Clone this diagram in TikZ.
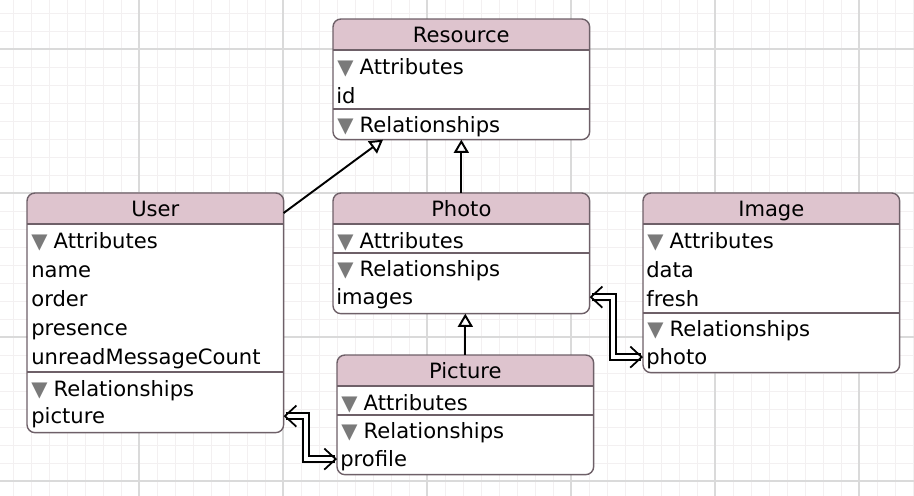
\documentclass[tikz,border=0pt]{standalone}
\usepackage{fontspec}
\setmainfont{DejaVu Sans}
\usetikzlibrary{arrows.meta,positioning,calc}
\definecolor{headfill}{HTML}{DEC4CE}
\definecolor{boxline}{HTML}{6E6068}
\definecolor{disclose}{HTML}{7A7A7A}
\definecolor{gridminor}{HTML}{F3F0F1}
\definecolor{gridmajor}{HTML}{DADADA}

\newcommand{\entityfont}{\fontsize{12}{14}\selectfont}
\newcommand{\tri}{{\color{disclose}▼}\hspace{3.5pt}}
\newcommand{\entityframe}[1]{%
  \begin{scope}
    \clip[rounded corners=0.16cm] (#1.north west) rectangle (#1.south east);
    \fill[headfill] (#1.north west) rectangle ($(#1.north east)+(0,31)$);
  \end{scope}
  \draw[boxedge] ($(#1.north west)+(0,31)$) -- ($(#1.north east)+(0,31)$);
  \draw[boxedge, rounded corners=0.16cm] (#1.north west) rectangle (#1.south east);
}
\newcommand{\divider}[2]{\draw[boxedge] (#1.west |- 0,#2) -- (#1.east |- 0,#2);}

\tikzset{
  entity/.style={fill=white, rounded corners=0.16cm, inner sep=0pt, minimum width=5.12cm, anchor=north west},
  boxedge/.style={boxline, line width=0.8pt},
  title/.style={font=\entityfont, anchor=base},
  row/.style={font=\entityfont, anchor=base west, inner sep=0pt, text height=9pt, text depth=0pt},
  inherit/.style={line width=1.1pt, -{Triangle[open, length=7.5pt, width=8.5pt, line width=1.1pt]}},
  relation/.style={double, double distance=2.4pt, line width=1pt,
    {Straight Barb[length=6.5pt, width=12pt]}-{Straight Barb[length=6.5pt, width=12pt]}},
}

\begin{document}
\begin{tikzpicture}[x=0.02cm, y=-0.02cm]
  \useasboundingbox (0,0) rectangle (914,496);
  % background grid
  \foreach \g in {13,31,...,913} \draw[gridminor, line width=0.5pt] (\g,0) -- (\g,496);
  \foreach \g in {13,31,...,495} \draw[gridminor, line width=0.5pt] (0,\g) -- (914,\g);
  \foreach \g in {139,283,...,859} \draw[gridmajor, line width=0.6pt] (\g,0) -- (\g,496);
  \foreach \g in {49,193,337,481} \draw[gridmajor, line width=0.6pt] (0,\g) -- (914,\g);

  % entity boxes
  \node[entity, minimum height=2.4cm] (resource) at (333,19) {};
  \node[entity, minimum height=4.78cm] (user) at (27,193) {};
  \node[entity, minimum height=2.4cm] (photo) at (333,193) {};
  \node[entity, minimum height=3.58cm] (image) at (643,193) {};
  \node[entity, minimum height=2.38cm] (picture) at (337,355) {};
  \entityframe{resource}
  \entityframe{user}
  \entityframe{photo}
  \entityframe{image}
  \entityframe{picture}

  % Resource
  \node[title] (resource-title) at ($(resource.north)+(0,24)$) {Resource};
  \node[row] (resource-attr) at (337,75) {\tri Attributes};
  \node[row] (resource-id) at (336,104) {id};
  \divider{resource}{109}
  \node[row] (resource-rel) at (337,133) {\tri Relationships};

  % User
  \node[title] (user-title) at ($(user.north)+(0,24)$) {User};
  \node[row] (user-attr) at (31,249) {\tri Attributes};
  \node[row] (user-name) at (31,278) {name};
  \node[row] (user-order) at (31,307) {order};
  \node[row] (user-presence) at (31,336) {presence};
  \node[row] (user-unread) at (31,365) {unreadMessageCount};
  \divider{user}{372}
  \node[row] (user-rel) at (31,397) {\tri Relationships};
  \node[row] (user-picture) at (31,424) {picture};

  % Photo
  \node[title] (photo-title) at ($(photo.north)+(0,24)$) {Photo};
  \node[row] (photo-attr) at (337,249) {\tri Attributes};
  \divider{photo}{253}
  \node[row] (photo-rel) at (337,277) {\tri Relationships};
  \node[row] (photo-images) at (336,305) {images};

  % Image
  \node[title] (image-title) at ($(image.north)+(0,24)$) {Image};
  \node[row] (image-attr) at (647,249) {\tri Attributes};
  \node[row] (image-data) at (646,278) {data};
  \node[row] (image-fresh) at (646,307) {fresh};
  \divider{image}{313}
  \node[row] (image-rel) at (647,337) {\tri Relationships};
  \node[row] (image-photo) at (646,365) {photo};

  % Picture
  \node[title] (picture-title) at ($(picture.north)+(0,24)$) {Picture};
  \node[row] (picture-attr) at (341,411) {\tri Attributes};
  \divider{picture}{415}
  \node[row] (picture-rel) at (341,439) {\tri Relationships};
  \node[row] (picture-profile) at (340,467) {profile};

  % inheritance
  \draw[inherit] ($(user.north east)+(0,20)$) -- ($(resource.south west)+(50,0)$);
  \draw[inherit] (photo.north) -- (resource.south);
  \draw[inherit] (picture.north) -- (picture.north |- photo.south);

  % relationships
  \coordinate (bend-user) at (306,436);
  \coordinate (bend-image) at (613,326);
  \draw[relation] (user.east |- user-picture) -| (bend-user) |- (picture.west |- picture-profile);
  \draw[relation] (photo.east |- photo-images) -| (bend-image) |- (image.west |- image-photo);
\end{tikzpicture}
\end{document}
